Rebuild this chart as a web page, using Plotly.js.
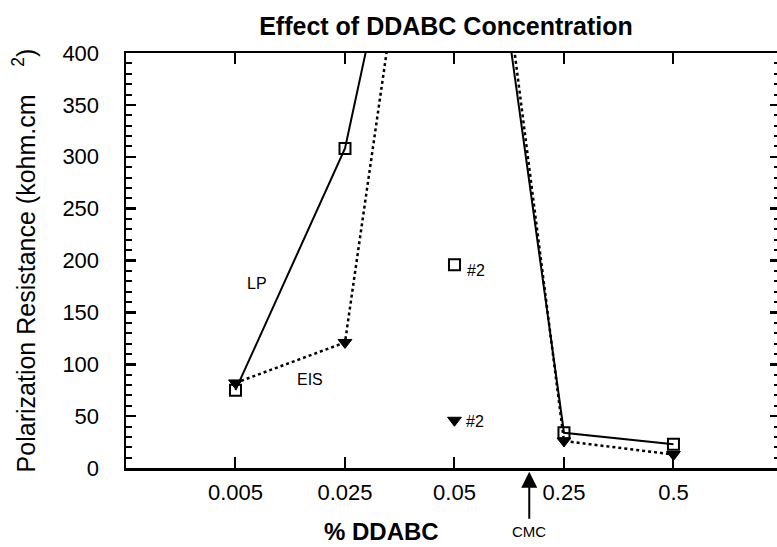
<!DOCTYPE html>
<html>
<head>
<meta charset="utf-8">
<script src="https://cdn.plot.ly/plotly-3.0.1.min.js"></script>
<style>
html,body{margin:0;padding:0;overflow:hidden;background:#fff;}
#chart{width:790px;height:547px;}
</style>
</head>
<body>
<div id="chart"></div>
<script>
// Data
var categories = ["0.005", "0.025", "0.05", "0.25", "0.5"];
var lpValues   = [75, 308, 798, 34, 23];     // LP (linear polarization), 0.05 point is off-scale
var eisValues  = [82, 121, 857, 26, 13];     // EIS, 0.05 point is off-scale
var repeatCategory = ["0.05"];
var lpRepeat   = [196];                      // "#2" LP
var eisRepeat  = [46];                       // "#2" EIS

var FONT = "Liberation Sans, Arial, sans-serif";

var traces = [
  {
    x: categories, y: lpValues, name: "LP", type: "scatter", mode: "lines+markers",
    line: {color: "#000", width: 2},
    marker: {symbol: "square-open", size: 11, color: "#000", line: {color: "#000", width: 2}}
  },
  {
    x: categories, y: eisValues, name: "EIS", type: "scatter", mode: "lines+markers",
    line: {color: "#000", width: 2.5, dash: "dot"},
    marker: {symbol: "triangle-down", size: 12, color: "#000", line: {color: "#000", width: 1}}
  },
  {
    x: repeatCategory, y: lpRepeat, name: "LP #2", type: "scatter", mode: "markers",
    marker: {symbol: "square-open", size: 11, color: "#000", line: {color: "#000", width: 2}}
  },
  {
    x: repeatCategory, y: eisRepeat, name: "EIS #2", type: "scatter", mode: "markers",
    marker: {symbol: "triangle-down", size: 12, color: "#000", line: {color: "#000", width: 1}}
  }
];

var layout = {
  width: 790, height: 547,
  margin: {l: 126, r: 10, t: 53, b: 79},
  paper_bgcolor: "#fff", plot_bgcolor: "#fff",
  showlegend: false,
  font: {family: FONT, color: "#000", size: 22},
  title: {
    text: "<b>Effect of DDABC Concentration</b>",
    font: {family: FONT, size: 25, color: "#000"},
    x: 446 / 790, xanchor: "center", xref: "container",
    y: 1 - 26 / 547, yanchor: "middle", yref: "container"
  },
  xaxis: {
    type: "category",
    categoryorder: "array", categoryarray: categories,
    range: [-1, 4.973],
    showline: true, linecolor: "#000", linewidth: 2.5, mirror: "ticks",
    ticks: "inside", ticklen: 11, tickwidth: 2, tickcolor: "#000",
    showgrid: false, zeroline: false,
    tickfont: {family: FONT, size: 22, color: "#000"},
    ticklabelstandoff: 3
  },
  yaxis: {
    range: [0, 400], dtick: 50, tick0: 0,
    showline: true, linecolor: "#000", linewidth: 2.5, mirror: "ticks",
    ticks: "inside", ticklen: 10, tickwidth: 2.5, tickcolor: "#000",
    minor: {dtick: 10, ticks: "inside", ticklen: 6, tickwidth: 2, tickcolor: "#000", showgrid: false},
    showgrid: false, zeroline: false,
    tickfont: {family: FONT, size: 22, color: "#000"},
    ticklabelstandoff: 20,
    title: {
      text: "Polarization Resistance (kohm.cm\u00a0\u00a0\u00a0\u00a0<sup>2</sup>)",
      font: {family: FONT, size: 25, color: "#000"},
      standoff: 20
    }
  },
  annotations: [
    {text: "LP", x: 0.196, y: 178, xref: "x", yref: "y", showarrow: false,
     font: {family: FONT, size: 16, color: "#000"}},
    {text: "EIS", x: 0.68, y: 85, xref: "x", yref: "y", showarrow: false,
     font: {family: FONT, size: 16, color: "#000"}},
    {text: "#2", x: 2.201, y: 190, xref: "x", yref: "y", showarrow: false,
     font: {family: FONT, size: 16, color: "#000"}},
    {text: "#2", x: 2.183, y: 45, xref: "x", yref: "y", showarrow: false,
     font: {family: FONT, size: 16, color: "#000"}},
    {text: "CMC", x: 2.683, y: -0.009, xref: "x", yref: "paper",
     showarrow: true, ax: 0, ay: 60, arrowhead: 2, arrowsize: 1.6, arrowwidth: 2, arrowcolor: "#000",
     standoff: 0, startstandoff: 3,
     font: {family: FONT, size: 15, color: "#000"}},
    {text: "<b>% DDABC</b>", x: 0.39, y: -0.154, xref: "paper", yref: "paper", showarrow: false,
     xanchor: "center", yanchor: "middle",
     font: {family: FONT, size: 24, color: "#000"}}
  ]
};

Plotly.newPlot("chart", traces, layout, {displayModeBar: false, staticPlot: true});
</script>
</body>
</html>
